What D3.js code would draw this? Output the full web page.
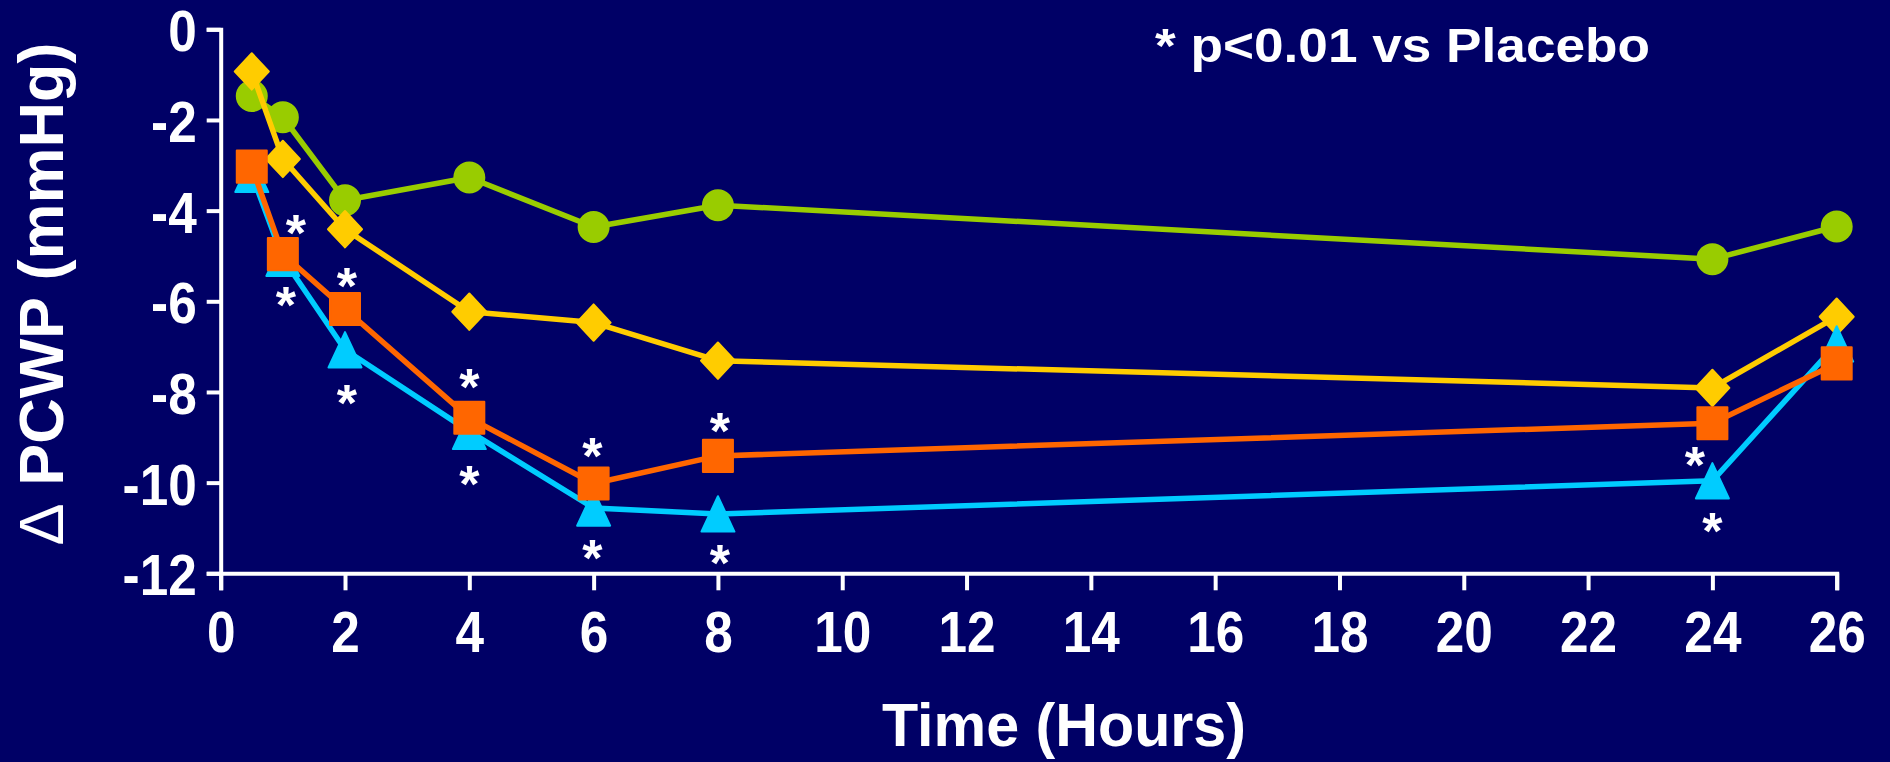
<!DOCTYPE html>
<html>
<meta charset="utf-8">
<script src="https://d3js.org/d3.v7.min.js"></script>
<style>
  body { margin: 0; background: #000066; }
  text { font-family: "Liberation Sans", Arial, sans-serif; font-weight: bold; fill: #fff; }
</style>
<body>
<script>

// data
var hours = [0.5, 1, 2, 4, 6, 8, 24, 26];
var placebo = [-1.47, -1.94, -3.77, -3.27, -4.36, -3.88, -5.07, -4.35];
var dose1 = [-0.93, -2.86, -4.41, -6.23, -6.47, -7.31, -7.91, -6.34];
var dose2 = [-3.2, -5.05, -7.07, -8.87, -10.56, -10.69, -9.96, -6.94];
var dose3 = [-3.03, -4.96, -6.17, -8.57, -10.02, -9.41, -8.69, -7.37];

var xTicks = [0, 2, 4, 6, 8, 10, 12, 14, 16, 18, 20, 22, 24, 26];
var yTicks = [0, -2, -4, -6, -8, -10, -12];

// significance stars (hours, mmHg)
var starHours = [1.21, 1.05, 2.03, 2.03, 4.0, 4.0, 5.98, 5.98, 8.03, 8.03, 23.72, 24.0];
var starValues = [-4.32, -5.9, -5.49, -8.07, -7.72, -9.85, -9.24, -11.49, -8.68, -11.6, -9.43, -10.9];

var W = 1890, H = 762;
var svg = d3.select("body").append("svg")
  .attr("width", W)
  .attr("height", H);

svg.append("rect").attr("width", W).attr("height", H).attr("fill", "#000066");

var x = d3.scaleLinear().domain([0, 26]).range([220.7, 1836.7]);
var y = d3.scaleLinear().domain([0, -12]).range([29.3, 573.3]);

// marker shapes, a little taller than wide like the slide
var stretch = 1.07;
var ellipse = { draw: function(c, size) {
  var r = Math.sqrt(size) / 2;
  c.ellipse ? c.ellipse(0, 0, r, r * stretch, 0, 0, 2 * Math.PI) : c.arc(0, 0, r, 0, 2 * Math.PI);
}};
var box = { draw: function(c, size) {
  var w = Math.sqrt(size) / 2, h = w * stretch;
  c.moveTo(-w, -h); c.lineTo(w, -h); c.lineTo(w, h); c.lineTo(-w, h); c.closePath();
}};
var diamond = { draw: function(c, size) {
  var w = Math.sqrt(size) / 2, h = w * stretch;
  c.moveTo(0, -h); c.lineTo(w, 0); c.lineTo(0, h); c.lineTo(-w, 0); c.closePath();
}};
var tri = { draw: function(c, size) {
  var w = Math.sqrt(size) / 2, h = w * stretch;
  c.moveTo(0, -h); c.lineTo(w, h); c.lineTo(-w, h); c.closePath();
}};

var series = [
  {values: placebo, color: "#99cc00", shape: ellipse, size: 30 * 30},
  {values: dose1, color: "#ffcc00", shape: diamond, size: 34 * 34},
  {values: dose2, color: "#00ccff", shape: tri, size: 33 * 33},
  {values: dose3, color: "#ff6600", shape: box, size: 30 * 30}
];

// axes
var plain = function(d) { return String(d); };
var xAxis = d3.axisBottom(x).tickValues(xTicks).tickSize(17).tickPadding(22).tickFormat(plain);
var yAxis = d3.axisLeft(y).tickValues(yTicks).tickSize(14).tickPadding(10).tickFormat(plain);

var gx = svg.append("g").attr("transform", "translate(0," + y(-12) + ")").call(xAxis);
var gy = svg.append("g").attr("transform", "translate(" + x(0) + ",0)").call(yAxis);

[gx, gy].forEach(function(g) {
  g.selectAll("path, line").attr("stroke", "#fff").attr("stroke-width", 4);
  g.selectAll("text").attr("fill", "#fff").style("font-size", "57px")
    .style("font-family", "'Liberation Sans', Arial, sans-serif").style("font-weight", "bold")
    .attr("transform", "scale(0.9,1)");
});
// narrower digits like the slide
gy.selectAll("text").attr("dy", "0.38em").attr("x", -24 / 0.9);
gx.selectAll("text").attr("dy", "0.7em");

// lines and markers
var line = d3.line().x(function(d, i) { return x(hours[i]); }).y(function(d) { return y(d); });

series.forEach(function(s) {
  var g = svg.append("g");
  g.append("path")
    .attr("d", line(s.values))
    .attr("fill", "none")
    .attr("stroke", s.color)
    .attr("stroke-width", 5.5)
    .attr("stroke-linejoin", "round");
  g.selectAll("path.m").data(s.values).enter().append("path")
    .attr("class", "m")
    .attr("transform", function(d, i) { return "translate(" + x(hours[i]) + "," + y(d) + ")"; })
    .attr("d", d3.symbol().type(s.shape).size(s.size))
    .attr("fill", s.color)
    .attr("stroke", s.color)
    .attr("stroke-width", 2)
    .attr("stroke-linejoin", "round");
});

// stars
svg.selectAll("text.star").data(starValues).enter().append("text")
  .attr("class", "star")
  .attr("x", function(d, i) { return x(starHours[i]); })
  .attr("y", function(d) { return y(d); })
  .attr("dy", "0.5em")
  .attr("text-anchor", "middle")
  .style("font-size", "52px")
  .text("*");

// texts
svg.append("text")
  .attr("x", 1155)
  .attr("y", 61.7)
  .attr("textLength", 495)
  .attr("lengthAdjust", "spacingAndGlyphs")
  .style("font-size", "49px")
  .text("* p<0.01 vs Placebo");

svg.append("text")
  .attr("x", 882)
  .attr("y", 746)
  .attr("textLength", 364)
  .attr("lengthAdjust", "spacingAndGlyphs")
  .style("font-size", "62px")
  .text("Time (Hours)");

var yl = svg.append("text")
  .attr("transform", "translate(63,294) rotate(-90)")
  .attr("text-anchor", "middle")
  .style("font-size", "63px");
yl.append("tspan").style("font-weight", "normal").text("\u0394");
yl.append("tspan").text(" PCWP (mmHg)");

</script>
</body>
</html>
